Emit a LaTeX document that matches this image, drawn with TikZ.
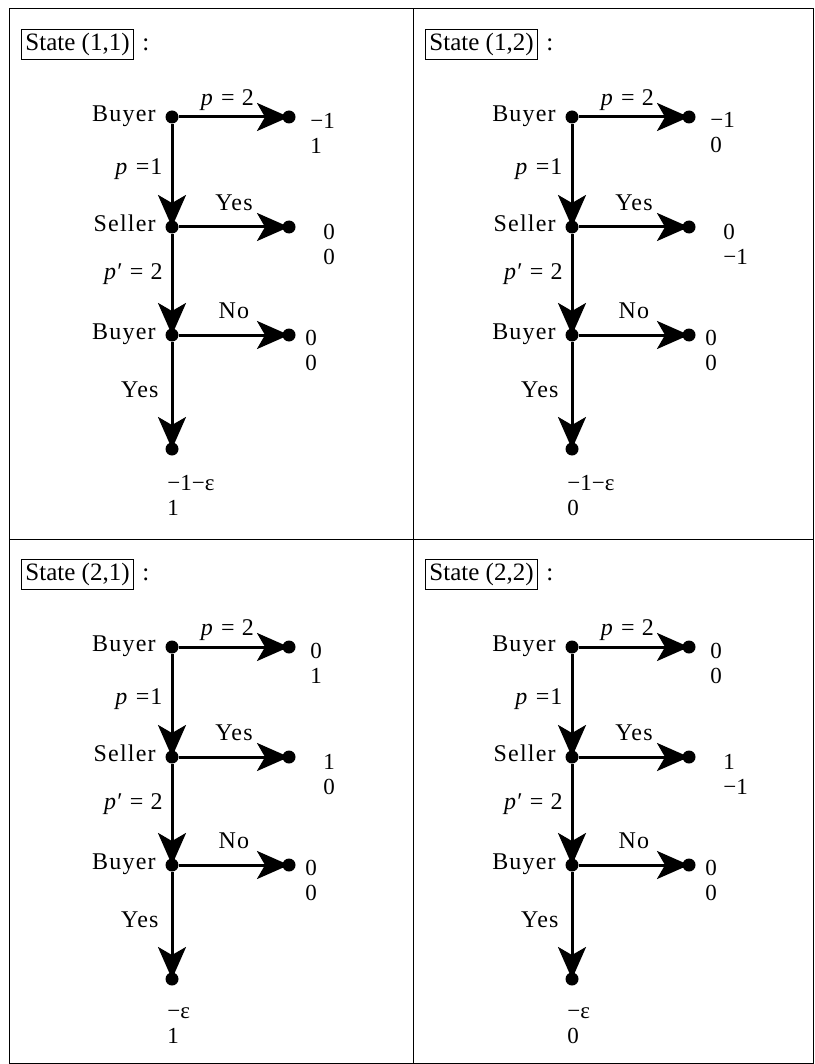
\documentclass[tikz,border=0pt]{standalone}
\usepackage{fontspec}
\setmainfont{Liberation Serif}
\newfontfamily\spacedfont[LetterSpace=5]{Liberation Serif}
\usetikzlibrary{arrows.meta,positioning}

\begin{document}
\begin{tikzpicture}[
    x=0.5pt, y=-0.5pt,
    frame/.style={line width=0.5pt},
    statebox/.style={draw, line width=0.5pt, inner xsep=2pt, inner ysep=2pt, font=\fontsize{12.5}{14}\selectfont},
    dot/.style={circle, fill, inner sep=0pt, minimum size=6.5pt},
    lbl/.style={inner sep=1pt, text height=0.7em, text depth=0.25em, font=\fontsize{12}{14}\spacedfont},
    pay/.style={inner sep=0pt, align=left, anchor=west, font=\fontsize{11.5}{12.5}\selectfont},
    arr/.style={-{Stealth[length=16pt, width=14pt, inset=4pt]}, line width=1.5pt},
]
\useasboundingbox (0,0) rectangle (814,1064);

% panel frame
\draw[frame] (9,9) rectangle (813,1063);
\draw[frame] (413,9) -- (413,1063);
\draw[frame] (9,539) -- (813,539);

\foreach \i/\ox/\oy/\bx/\st/\ta/\tb/\sa/\sb/\na/\nb/\ya/\yb in {
    1/0/0/0/{(1,1)}/−1/1/0/0/0/0/−1−ε/1,
    2/400/0/4/{(1,2)}/−1/0/0/−1/0/0/−1−ε/0,
    3/0/530/0/{(2,1)}/0/1/1/0/0/0/−ε/1,
    4/400/530/4/{(2,2)}/0/0/1/−1/0/0/−ε/0}
{
\begin{scope}[shift={(\ox,\oy)}]
    \node[statebox] (state-\i) at (77.5+\bx, 44.5) {State \st};
    \node[inner sep=1pt, font=\fontsize{12.5}{14}\selectfont, right=3pt of state-\i] (colon-\i) {:};

    % decision nodes
    \node[dot] (buyerA-\i) at (172,117) {};
    \node[dot] (seller-\i) at (172,227) {};
    \node[dot] (buyerB-\i) at (172,335) {};
    \node[lbl, left=3.5pt of buyerA-\i] (buyerA-lbl-\i) {Buyer};
    \node[lbl, left=3.5pt of seller-\i] (seller-lbl-\i) {Seller};
    \node[lbl, left=3.5pt of buyerB-\i] (buyerB-lbl-\i) {Buyer};

    % end nodes
    \node[dot] (endP-\i) at (289,117) {};
    \node[dot] (endY-\i) at (289,227) {};
    \node[dot] (endN-\i) at (289,335) {};
    \node[dot] (endB-\i) at (172,449) {};

    \draw[arr] (buyerA-\i) -- (endP-\i.center) node[pos=0.44, above=1.5pt, lbl] (lbl-p2-\i) {\textit{p} = 2};
    \draw[arr] (buyerA-\i) -- (seller-\i.center) node[pos=0.45, left=3pt, lbl] (lbl-p1-\i) {\textit{p} =1};
    \draw[arr] (seller-\i) -- (endY-\i.center) node[midway, above=4pt, lbl] (lbl-yes-\i) {Yes};
    \draw[arr] (seller-\i) -- (buyerB-\i.center) node[pos=0.41, left=3pt, lbl] (lbl-pp-\i) {\textit{p}′ = 2};
    \draw[arr] (buyerB-\i) -- (endN-\i.center) node[midway, above=4pt, lbl] (lbl-no-\i) {No};
    \draw[arr] (buyerB-\i) -- (endB-\i.center) node[pos=0.48, left=5pt, lbl] (lbl-acc-\i) {Yes};

    % payoffs
    \node[pay] (payP-\i) at (310,133) {\ta\\\tb};
    \node[pay] (payY-\i) at (323,244.5) {\sa\\\sb};
    \node[pay] (payN-\i) at (305,350.5) {\na\\\nb};
    \node[pay] (payB-\i) at (167,495.5) {\ya\\\yb};
\end{scope}
}
\end{tikzpicture}
\end{document}
